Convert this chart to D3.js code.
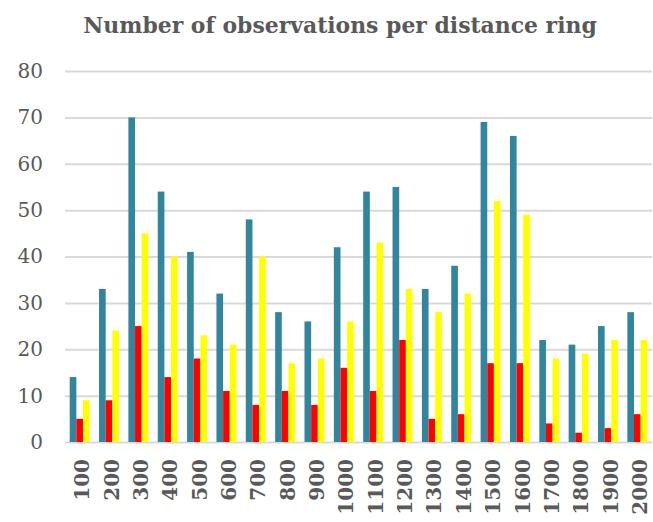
<!DOCTYPE html>
<html>
<head>
<meta charset="utf-8">
<script src="https://cdn.jsdelivr.net/npm/d3@7"></script>
<style>
  html, body { margin: 0; padding: 0; background: #fff; }
  svg { display: block; }
</style>
</head>
<body>
<svg id="chart" width="653" height="522"></svg>
<script>
const categories = ["100","200","300","400","500","600","700","800","900","1000","1100","1200","1300","1400","1500","1600","1700","1800","1900","2000"];
const seriesNames = ["teal", "red", "yellow"];
const tealValues   = [14,33,70,54,41,32,48,28,26,42,54,55,33,38,69,66,22,21,25,28];
const redValues    = [5,9,25,14,18,11,8,11,8,16,11,22,5,6,17,17,4,2,3,6];
const yellowValues = [9,24,45,40,23,21,40,17,18,26,43,33,28,32,52,49,18,19,22,22];
const yTicks = [0,10,20,30,40,50,60,70,80];
const titleText = "Number of observations per distance ring";

const colors = { teal: "#31859C", red: "#FF0000", yellow: "#FFFF00" };
const seriesData = { teal: tealValues, red: redValues, yellow: yellowValues };

const svg = d3.select("#chart");
const plotLeft = 65, plotRight = 652, plotTop = 71, plotBottom = 442;

const x0 = d3.scaleBand().domain(categories).range([plotLeft, plotRight])
  .paddingInner(0.32).paddingOuter(0.16);
const x1 = d3.scaleBand().domain(seriesNames).range([0, x0.bandwidth()]);
const y = d3.scaleLinear().domain([0, 80]).range([plotBottom, plotTop]);

const serif = "Georgia, 'DejaVu Serif', serif";
const textColor = "#595959";

// Title
const title = svg.append("text")
  .attr("x", 340).attr("y", 33)
  .attr("text-anchor", "middle")
  .attr("font-family", serif).attr("font-weight", "bold")
  .attr("font-size", 21).attr("fill", textColor)
  .text(titleText);
const tw = title.node().getComputedTextLength();
if (tw > 0) title.attr("font-size", Math.min(24, Math.max(16, 21 * 514 / tw)));

// Gridlines
const yAxis = d3.axisLeft(y).tickValues(yTicks).tickSize(-(plotRight - plotLeft)).tickPadding(22);
const gy = svg.append("g").attr("transform", `translate(${plotLeft},0)`).call(yAxis);
gy.select(".domain").remove();
gy.selectAll(".tick line").attr("stroke", "#d9d9d9").attr("stroke-width", 2);
gy.selectAll(".tick text")
  .attr("font-family", serif).attr("font-size", 20).attr("fill", textColor);

// Bars
const groups = svg.append("g").selectAll("g")
  .data(categories).join("g")
  .attr("transform", d => `translate(${x0(d)},0)`);
groups.selectAll("rect")
  .data((d, i) => seriesNames.map(s => ({ s, v: seriesData[s][i] })))
  .join("rect")
  .attr("x", d => x1(d.s))
  .attr("width", x1.bandwidth())
  .attr("y", d => y(d.v))
  .attr("height", d => y(0) - y(d.v))
  .attr("fill", d => colors[d.s]);

// X axis labels
const xAxis = d3.axisBottom(x0).tickSize(0).tickPadding(0);
const gx = svg.append("g").attr("transform", `translate(0,${plotBottom})`).call(xAxis);
gx.select(".domain").remove();
gx.selectAll(".tick text")
  .attr("font-family", serif).attr("font-weight", "bold")
  .attr("font-size", 20).attr("fill", textColor)
  .attr("text-anchor", "end")
  .attr("transform", "translate(0,17) rotate(-90)")
  .attr("x", 0).attr("y", 0)
  .attr("dy", "9.6");
</script>
</body>
</html>
